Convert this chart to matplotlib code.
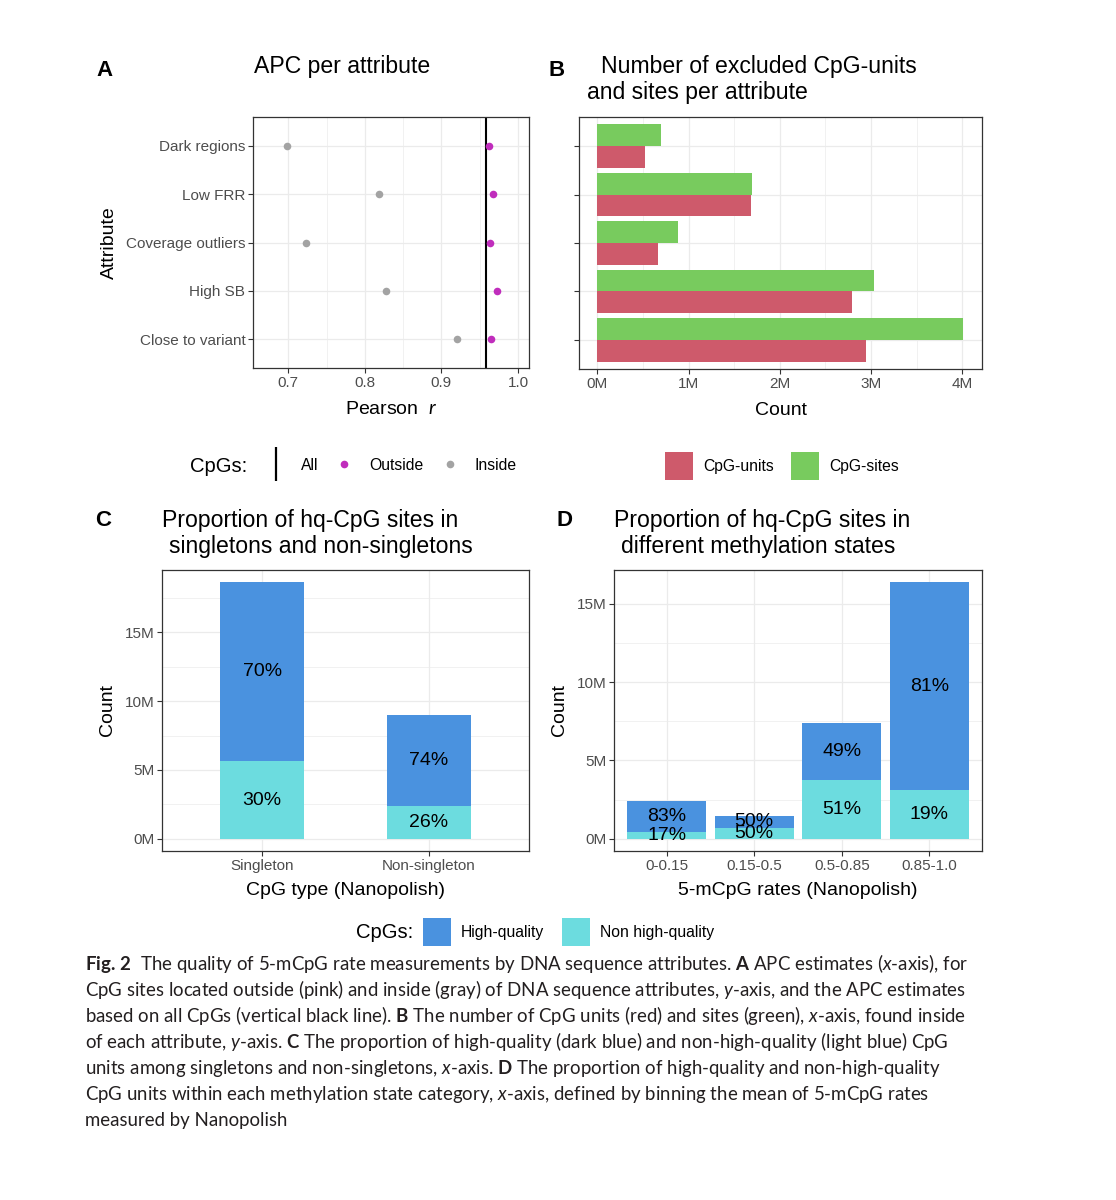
import matplotlib
matplotlib.use("Agg")
import matplotlib.pyplot as plt
from matplotlib.lines import Line2D
from matplotlib.patches import Patch
from matplotlib.ticker import FuncFormatter
import numpy as np

plt.rcParams["font.family"] = ["Liberation Sans", "DejaVu Sans"]
plt.rcParams["mathtext.fontset"] = "custom"
plt.rcParams["mathtext.rm"] = "Lato"
plt.rcParams["mathtext.it"] = "Lato:italic"
plt.rcParams["mathtext.bf"] = "Lato:bold"

# ------------------------------------------------------------------ #
# Data
# ------------------------------------------------------------------ #
attributes = ["Dark regions", "Low FRR", "Coverage outliers", "High SB", "Close to variant"]
apc_inside = [0.699, 0.819, 0.723, 0.828, 0.921]
apc_outside = [0.962, 0.968, 0.964, 0.973, 0.965]
apc_all = 0.958

# millions
excluded_units = [0.52, 1.68, 0.67, 2.79, 2.94]
excluded_sites = [0.70, 1.69, 0.89, 3.03, 4.01]

cpg_types = ["Singleton", "Non-singleton"]
type_hq = [13.01, 6.62]
type_non_hq = [5.62, 2.35]
type_pct_hq = ["70%", "74%"]
type_pct_non_hq = ["30%", "26%"]

rate_bins = ["0-0.15", "0.15-0.5", "0.5-0.85", "0.85-1.0"]
rate_hq = [2.00, 0.72, 3.64, 13.27]
rate_non_hq = [0.41, 0.71, 3.77, 3.11]
rate_pct_hq = ["83%", "50%", "49%", "81%"]
rate_pct_non_hq = ["17%", "50%", "51%", "19%"]

# ------------------------------------------------------------------ #
# Style
# ------------------------------------------------------------------ #
W, H = 1116, 1200
PINK = "#C02DBC"
GRAY = "#A3A3A3"
RED = "#CE5A6B"
GREEN = "#78CB5E"
BLUE = "#4A92DF"
CYAN = "#6CDCDF"
GRID = "#EBEBEB"
TICK_C = "#4D4D4D"
TICK_FS = 11
TITLE_FS = 16.6
AXT_FS = 14
LEG_FS = 11.3


def px_axes(fig, left, top, right, bottom):
    return fig.add_axes([left / W, 1 - bottom / H, (right - left) / W, (bottom - top) / H])


def fig_text(fig, x, y, s, **kw):
    return fig.text(x / W, 1 - y / H, s, **kw)


def style_axes(ax):
    for sp in ax.spines.values():
        sp.set_color("#333333")
        sp.set_linewidth(0.9)
    ax.tick_params(which="major", length=3.5, width=0.8, color="#333333",
                   labelsize=TICK_FS, labelcolor=TICK_C, pad=2)
    ax.tick_params(which="minor", length=0)
    ax.grid(True, which="major", color=GRID, linewidth=0.9)
    ax.grid(True, which="minor", color=GRID, linewidth=0.5)
    ax.set_axisbelow(True)


fig = plt.figure(figsize=(W / 100, H / 100), dpi=100, facecolor="white")

# ---------------- (A) APC per attribute ----------------
ax = px_axes(fig, 253, 117, 529, 368)
y = np.arange(len(attributes))
ax.scatter(apc_inside, y, s=30, color=GRAY, zorder=3, linewidths=0)
ax.scatter(apc_outside, y, s=30, color=PINK, zorder=3, linewidths=0)
ax.axvline(apc_all, color="black", linewidth=1.5, zorder=2)
ax.set_xlim(0.654, 1.0144)
ax.set_ylim(len(attributes) - 0.4, -0.6)
ax.set_xticks([0.7, 0.8, 0.9, 1.0])
ax.set_xticklabels(["0.7", "0.8", "0.9", "1.0"])
ax.set_xticks([0.75, 0.85, 0.95], minor=True)
ax.set_yticks(y)
ax.set_yticklabels(attributes)
style_axes(ax)
ax.set_xlabel(r"Pearson  $\it{r}$", fontsize=AXT_FS, labelpad=8)
ax.set_ylabel("Attribute", fontsize=AXT_FS, labelpad=6)

# ---------------- (B) excluded CpGs ----------------
ax = px_axes(fig, 579, 117, 982, 369)
ax.barh(y - 0.225, excluded_sites, height=0.45, color=GREEN, zorder=2)
ax.barh(y + 0.225, excluded_units, height=0.45, color=RED, zorder=2)
ax.set_xlim(-0.2, 4.215)
ax.set_ylim(len(attributes) - 0.4, -0.6)
ax.set_xticks([0, 1, 2, 3, 4])
ax.set_xticks([0.5, 1.5, 2.5, 3.5], minor=True)
ax.xaxis.set_major_formatter(FuncFormatter(lambda v, p: f"{v:.0f}M"))
ax.set_yticks(y)
ax.set_yticklabels([])
style_axes(ax)
ax.set_xlabel("Count", fontsize=AXT_FS, labelpad=8)


def stacked(ax, cats, lower, upper, pct_lower, pct_upper, width):
    x = np.arange(len(cats))
    ax.bar(x, lower, width=width, color=CYAN, zorder=2)
    ax.bar(x, upper, width=width, bottom=lower, color=BLUE, zorder=2)
    for xi, lo, up, pl, pu in zip(x, lower, upper, pct_lower, pct_upper):
        ax.text(xi, lo / 2, pl, ha="center", va="center", fontsize=14, zorder=3)
        ax.text(xi, lo + up / 2, pu, ha="center", va="center", fontsize=14, zorder=3)
    ax.set_xticks(x)
    ax.set_xticklabels(cats)
    ax.set_xlim(-0.6, len(cats) - 0.4)
    ax.set_yticks([0, 5, 10, 15])
    ax.set_yticks([2.5, 7.5, 12.5, 17.5], minor=True)
    ax.yaxis.set_major_formatter(FuncFormatter(lambda v, p: f"{v:.0f}M"))
    style_axes(ax)


# ---------------- (C) singletons ----------------
ax = px_axes(fig, 162, 570, 529, 851)
stacked(ax, cpg_types, type_non_hq, type_hq, type_pct_non_hq, type_pct_hq, 0.5)
ax.set_ylim(-0.89, 19.53)
ax.set_xlabel("CpG type (Nanopolish)", fontsize=AXT_FS, labelpad=7)
ax.set_ylabel("Count", fontsize=AXT_FS, labelpad=6)

# ---------------- (D) methylation states ----------------
ax = px_axes(fig, 614, 570, 982, 851)
stacked(ax, rate_bins, rate_non_hq, rate_hq, rate_pct_non_hq, rate_pct_hq, 0.9)
ax.set_ylim(-0.79, 17.17)
ax.set_xlabel("5-mCpG rates (Nanopolish)", fontsize=AXT_FS, labelpad=7)
ax.set_ylabel("Count", fontsize=AXT_FS, labelpad=6)

# ---------------- titles and panel letters ----------------
bold = dict(fontsize=16, fontweight="bold", va="center", ha="left")
fig_text(fig, 96, 70, "A", **bold)
fig_text(fig, 549, 70, "B", **bold)
fig_text(fig, 95, 521, "C", **bold)
fig_text(fig, 557, 521, "D", **bold)

tkw = dict(fontsize=TITLE_FS, va="center", ha="left")
fig_text(fig, 254, 67, "APC per attribute", **tkw)
fig_text(fig, 601, 67, "Number of excluded CpG-units", **tkw)
fig_text(fig, 587, 93, "and sites per attribute", **tkw)
fig_text(fig, 162, 520, "Proportion of hq-CpG sites in", **tkw)
fig_text(fig, 169, 546, "singletons and non-singletons", **tkw)
fig_text(fig, 614, 520, "Proportion of hq-CpG sites in", **tkw)
fig_text(fig, 621, 546, "different methylation states", **tkw)

# ---------------- legends ----------------
fig_text(fig, 190, 466, "CpGs:", fontsize=14.6, va="center", ha="left")
h_a = [
    Line2D([], [], marker="|", linestyle="None", markersize=24, markeredgewidth=1.6, color="black"),
    Line2D([], [], marker="o", linestyle="None", markersize=5.5, color=PINK, markeredgewidth=0),
    Line2D([], [], marker="o", linestyle="None", markersize=5.5, color=GRAY, markeredgewidth=0),
]
fig.legend(h_a, ["All", "Outside", "Inside"], loc="center left",
           bbox_to_anchor=(264 / W, 1 - 465 / H), ncol=3, frameon=False,
           fontsize=LEG_FS, handlelength=1.5, handletextpad=0.85, columnspacing=0.9,
           borderpad=0, borderaxespad=0)

sq = dict(handlelength=1.78, handleheight=2.37, handletextpad=0.65,
          columnspacing=1.1, borderpad=0, borderaxespad=0, frameon=False, fontsize=LEG_FS)
h_b = [Patch(facecolor=RED, edgecolor="none"), Patch(facecolor=GREEN, edgecolor="none")]
fig.legend(h_b, ["CpG-units", "CpG-sites"], loc="center left",
           bbox_to_anchor=(665 / W, 1 - 466 / H), ncol=2, **sq)

fig_text(fig, 356, 933, "CpGs:", fontsize=14.6, va="center", ha="left")
h_cd = [Patch(facecolor=BLUE, edgecolor="none"), Patch(facecolor=CYAN, edgecolor="none")]
fig.legend(h_cd, ["High-quality", "Non high-quality"], loc="center left",
           bbox_to_anchor=(423 / W, 1 - 932 / H), ncol=2, **sq)

# ---------------- caption ----------------
caption = [
    r"$\mathbf{Fig.\,2}$  The quality of 5-mCpG rate measurements by DNA sequence attributes. $\mathbf{A}$ APC estimates ($\mathit{x}$-axis), for",
    r"CpG sites located outside (pink) and inside (gray) of DNA sequence attributes, $\mathit{y}$-axis, and the APC estimates",
    r"based on all CpGs (vertical black line). $\mathbf{B}$ The number of CpG units (red) and sites (green), $\mathit{x}$-axis, found inside",
    r"of each attribute, $\mathit{y}$-axis. $\mathbf{C}$ The proportion of high-quality (dark blue) and non-high-quality (light blue) CpG",
    r"units among singletons and non-singletons, $\mathit{x}$-axis. $\mathbf{D}$ The proportion of high-quality and non-high-quality",
    r"CpG units within each methylation state category, $\mathit{x}$-axis, defined by binning the mean of 5-mCpG rates",
    "measured by Nanopolish",
]
for i, line in enumerate(caption):
    fig_text(fig, 85, 970 + 26 * i, line, fontsize=13.4, family="Lato",
             va="baseline", ha="left", color="#231F20")

fig.savefig("out.png", dpi=100, facecolor="white")
